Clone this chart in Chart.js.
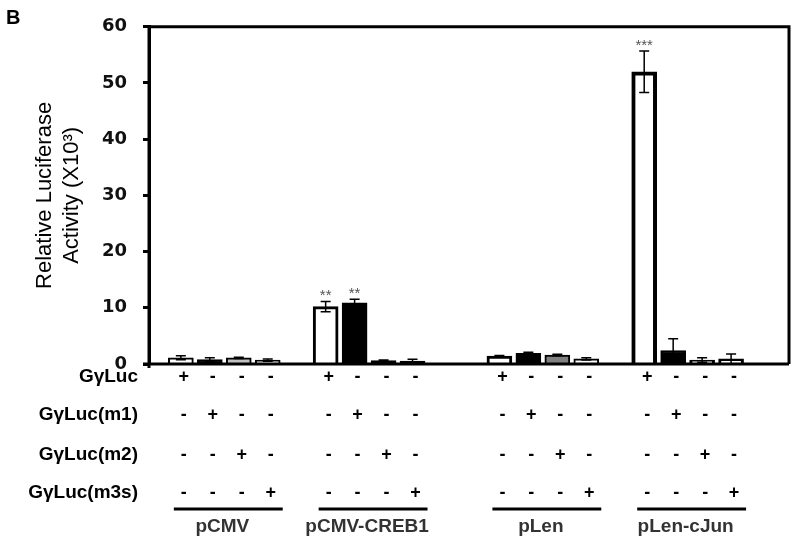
<!DOCTYPE html>
<html>
<head>
<meta charset="utf-8">
<script src="https://cdn.jsdelivr.net/npm/chart.js@4"></script>
<style>
  html, body { margin: 0; padding: 0; background: #fff; }
  #wrap { width: 800px; height: 547px; }
</style>
</head>
<body>
<div id="wrap"><canvas id="luc" width="800" height="547"></canvas></div>
<script>
const groups = ["pCMV", "pCMV-CREB1", "pLen", "pLen-cJun"];
const rowLabels = ["G\u03b3Luc", "G\u03b3Luc(m1)", "G\u03b3Luc(m2)", "G\u03b3Luc(m3s)"];
const signs = ["+---", "-+--", "--+-", "---+"];   // one row per construct, same in each group

// relative luciferase activity (x10^3), 4 bars per group
const values = [1.1, 0.8, 1.1, 0.7,  10.2, 10.9, 0.6, 0.5,  1.4, 1.9, 1.6, 0.9,  52.0, 2.4, 0.7, 0.9];
const errors = [0.35, 0.3, 0.1, 0.2,  0.9, 0.6, 0.1, 0.35,  0.1, 0.2, 0.15, 0.2,  3.7, 2.1, 0.4, 0.9];
const stars  = ["", "", "", "",  "**", "**", "", "",  "", "", "", "",  "***", "", "", ""];

const yTicks = [0, 10, 20, 30, 40, 50, 60];

// look
const fills = ["#fff", "#000", "#c0c0c0", "#fff",  "#fff", "#000", "#000", "#000",
               "#fff", "#000", "#808080", "#fff",  "#fff", "#000", "#fff", "#fff"];
const borders = [2, 2, 2, 2,  3, 2, 2, 2,  3, 2, 2, 2,  4, 2, 3, 3];
const gapBefore = [0, 1, 2, 1];   // empty slots before each group

const slot = [];
let pos = 0;
groups.forEach((g, gi) => {
  pos += gapBefore[gi];
  for (let j = 0; j < 4; j++) slot.push(pos++);
});

const extras = {
  id: "extras",
  afterDatasetsDraw(chart) {
    const { ctx, chartArea: a, scales } = chart;
    const x = scales.x, y = scales.y;
    ctx.save();

    // frame
    ctx.strokeStyle = "#000";
    ctx.lineWidth = 3;
    ctx.beginPath();
    ctx.moveTo(a.left, a.top);
    ctx.lineTo(a.right, a.top);
    ctx.lineTo(a.right, a.bottom);
    ctx.moveTo(a.left - 6, a.bottom);
    ctx.lineTo(a.right, a.bottom);
    ctx.moveTo(a.left, a.top);
    ctx.lineTo(a.left, a.bottom + 4);
    ctx.stroke();

    // error bars and stars
    ctx.lineWidth = 1.5;
    values.forEach((v, i) => {
      const px = x.getPixelForValue(slot[i]);
      const hi = y.getPixelForValue(v + errors[i]);
      const lo = y.getPixelForValue(Math.max(0, v - errors[i]));
      ctx.beginPath();
      ctx.moveTo(px, lo); ctx.lineTo(px, hi);
      ctx.moveTo(px - 5, hi); ctx.lineTo(px + 5, hi);
      ctx.moveTo(px - 5, lo); ctx.lineTo(px + 5, lo);
      ctx.stroke();
      if (stars[i]) {
        ctx.fillStyle = "#555";
        ctx.font = "15px 'Liberation Sans'";
        ctx.textAlign = "center";
        ctx.textBaseline = "bottom";
        ctx.fillText(stars[i], px, hi + 2);
      }
    });

    // sign table
    const rowY = [377, 415, 455, 493];
    ctx.fillStyle = "#000";
    rowLabels.forEach((lab, r) => {
      ctx.font = "bold 19px 'Liberation Sans'";
      ctx.textAlign = "right";
      ctx.textBaseline = "middle";
      ctx.fillText(lab, 138, rowY[r]);
      ctx.textAlign = "center";
      ctx.font = "bold 18px 'Liberation Sans'";
      values.forEach((v, i) => {
        ctx.fillText(signs[r][i % 4], x.getPixelForValue(slot[i]) + 3, rowY[r]);
      });
    });

    // group underlines and names
    groups.forEach((g, gi) => {
      const x0 = x.getPixelForValue(slot[gi * 4]) - 7;
      const x1 = x.getPixelForValue(slot[gi * 4 + 3]) + 15;
      ctx.lineWidth = 3;
      ctx.beginPath();
      ctx.moveTo(x0, 509); ctx.lineTo(x1, 509);
      ctx.stroke();
      ctx.fillStyle = "#333";
      ctx.font = "bold 19px 'Liberation Sans'";
      ctx.textAlign = "center";
      ctx.textBaseline = "middle";
      ctx.fillText(g, (x0 + x1) / 2 - 6, 527);
    });

    // panel letter
    ctx.fillStyle = "#000";
    ctx.font = "bold 20px 'Liberation Sans'";
    ctx.textAlign = "left";
    ctx.textBaseline = "top";
    ctx.fillText("B", 6, 8);
    ctx.restore();
  }
};

new Chart(document.getElementById("luc").getContext("2d"), {
  type: "bar",
  data: {
    datasets: [{
      data: values.map((v, i) => ({ x: slot[i], y: v })),
      backgroundColor: fills,
      borderColor: "#000",
      borderWidth: borders,
      barThickness: 25
    }]
  },
  options: {
    responsive: false,
    animation: false,
    layout: { padding: { left: 0, top: 21, right: 11, bottom: 183 } },
    plugins: { legend: { display: false }, tooltip: { enabled: false } },
    scales: {
      x: { type: "linear", min: -1.1, max: 21, offset: false, display: false },
      y: {
        min: 0, max: 60,
        afterBuildTicks: (s) => { s.ticks = yTicks.map(v => ({ value: v })); },
        afterFit: (s) => { s.width = 149; },
        ticks: { color: "#111", padding: 16, font: { family: "DejaVu Sans", size: 18, weight: "bold" } },
        grid: { drawOnChartArea: false, tickLength: 6, tickWidth: 3, tickColor: "#000" },
        border: { display: true, color: "#000", width: 3 },
        title: {
          display: true,
          text: ["Relative Luciferase", "Activity (X10\u00b3)"],
          color: "#000",
          font: { family: "Liberation Sans", size: 22 },
          padding: { top: 32, bottom: 0 }
        }
      }
    }
  },
  plugins: [extras]
});
</script>
</body>
</html>
